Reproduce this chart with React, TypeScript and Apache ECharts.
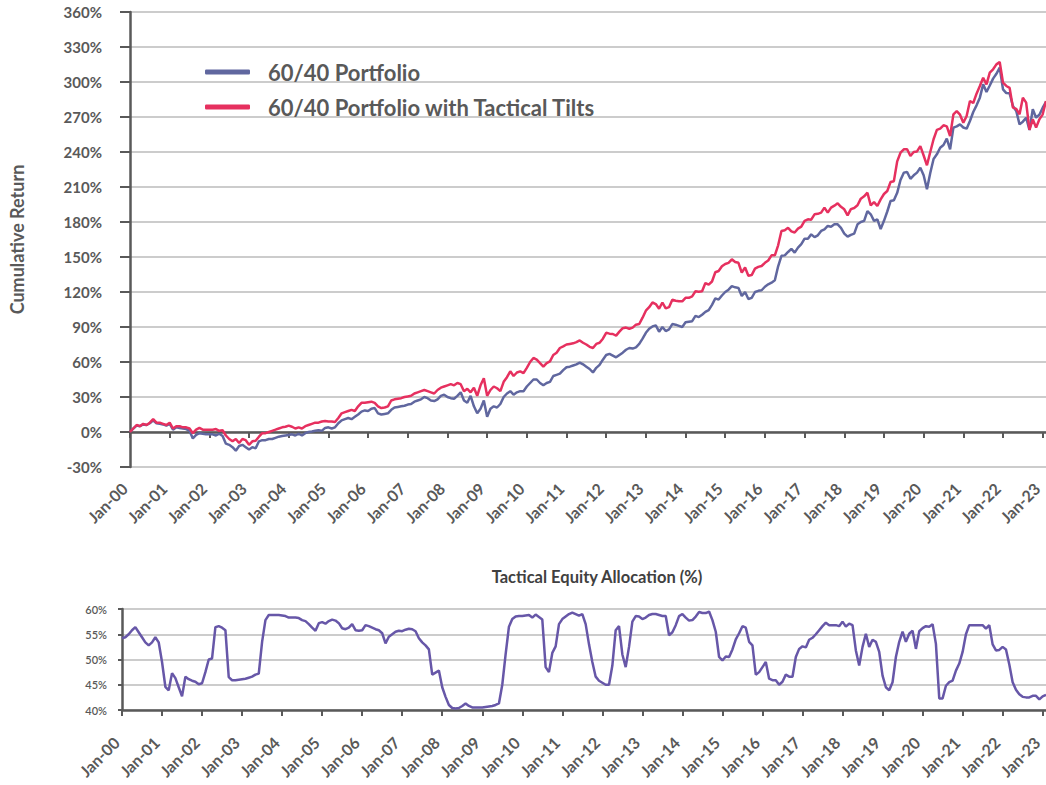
import React, { useEffect, useRef } from "react";
import * as echarts from "echarts";

// Monthly observations Jan-2000 .. Feb-2023
const MONTH_NAMES = ["Jan", "Feb", "Mar", "Apr", "May", "Jun", "Jul", "Aug", "Sep", "Oct", "Nov", "Dec"];
const FIRST_YEAR = 2000;
const N_MONTHS = 278;

// Cumulative return (%) – 60/40 Portfolio
const portfolio6040: number[] = [
  0, 3, 5.5, 5, 6.5, 6, 7.5, 10, 7.5, 7, 6.5, 5.5,
  7, 2, 4, 3.5, 3, 2.5, 1, -5.5, -2.5, -1, -1.5, -2,
  -2, -2, -3, -1.5, -3.5, -10, -11, -13, -16, -12, -11, -13,
  -15, -13, -14, -8, -7, -7, -6, -6, -5, -4, -3.5, -3,
  -2.5, -2, -3, -1.5, -3, -1, 0, 0.5, 1, 1.5, 1, 3.5,
  4, 3, 4, 7.5, 10, 11, 12, 11, 13, 15, 17.5, 18.5,
  18, 20, 20.5, 16, 15, 15.5, 16, 19, 21, 21.5, 22, 22.5,
  23.5, 24, 26, 27, 28, 30, 29, 27, 26.5, 28, 31, 32,
  30, 29, 28.5, 31, 34, 27, 25, 31, 22, 16, 20, 27,
  13, 20, 22, 21, 24, 30, 33, 35, 32, 34, 35, 35,
  39, 42, 45, 45, 42, 40, 42, 43, 48, 49, 50, 53,
  55.5, 56, 57, 58, 59.5, 58, 56, 54, 51, 55, 57.5, 62,
  66, 67, 65.5, 64, 66, 68, 70.5, 72, 71.5, 72.5, 75.5, 80,
  85, 88.5, 90.5, 91.4, 86, 90, 86.5, 88, 92.5, 92, 91, 90,
  94, 94.5, 95, 99.5, 98.5, 100.5, 103, 104.5, 109, 114.5, 113.5, 117,
  120, 122, 125, 124, 123.5, 116.5, 120, 114, 115, 120, 121, 121.5,
  124.5, 126.6, 128, 130, 142, 151, 151.4, 154.3, 157, 153.7, 158, 161,
  165.7, 165.7, 169.4, 167, 168.6, 172.3, 173.7, 176.6, 176, 178, 178, 175,
  170, 167.4, 169, 170, 178, 180, 181, 189.4, 186.6, 181, 182.3, 174,
  181, 189, 198, 198.6, 205, 216, 222.3, 222.9, 217, 220, 222.3, 226.6,
  220, 208, 222, 234, 238, 243.7, 246, 251.4, 242.3, 260.9, 262, 263.7,
  261, 260, 266.6, 274.3, 280, 286.6, 298, 291.4, 297, 302.9, 307, 312.3,
  293.7, 290.5, 290.3, 279.4, 275.1, 263.7, 266, 269.4, 258.9, 276.6, 269.4, 272,
  278, 282.9,
];

// Cumulative return (%) – 60/40 Portfolio with Tactical Tilts
const portfolioTilts: number[] = [
  0, 3, 6, 5, 7, 6, 8, 11, 8, 8, 7, 6,
  8, 3, 5, 5, 4, 4, 3, -1, 2, 3.5, 2, 2,
  2, 2, 2.5, 1, 1.5, -3, -6, -8, -6, -9.5, -6, -7,
  -11, -8, -7.5, -4, -1, -1, 0, 1, 2, 3, 4, 4.5,
  5.5, 4.5, 3, 4, 3, 5, 6, 7, 8, 8, 9, 9.5,
  9, 9, 8.5, 12, 16, 17, 18, 19, 18, 22, 25, 25,
  25.5, 26, 25, 22, 20.5, 21, 22, 27, 28, 28.5, 29, 30,
  30.5, 31, 33, 34, 35, 36, 35, 34, 33, 36, 38, 39,
  40, 41, 40, 42, 41, 35, 37, 34, 38, 31, 40, 46,
  31, 36, 39, 37.5, 35, 43, 47, 52, 48, 51, 52, 50.5,
  55, 60, 63.5, 62, 59, 56, 59, 60.5, 66, 68, 72, 73.4,
  75, 75.5, 76, 77, 78.5, 76.5, 75, 73, 72, 75.5, 76.5, 80,
  85, 84.3, 84, 82.6, 86, 89, 89.5, 88.5, 89.5, 92, 92.6, 98,
  104, 107, 111, 109.7, 105.7, 111, 106, 107, 113.4, 112.5, 112, 112,
  115, 115, 116.3, 120.6, 120.3, 120.6, 127.7, 126.3, 129, 136.9, 138, 142,
  144, 145, 148, 145.7, 145, 136.6, 141, 134, 134.5, 140, 141.5, 142.3,
  145, 147, 151.4, 151.4, 160, 172.3, 173, 175, 172, 171, 174.3, 176,
  181, 182.3, 182, 186.6, 187, 188, 192.3, 188, 192.3, 194, 196, 193,
  190.9, 185.7, 191, 192, 194.3, 200, 202, 205.1, 194.3, 197, 193.7, 199.4,
  204, 206.6, 214.3, 215, 232, 239.4, 242.3, 242.3, 236.6, 240, 240.5, 245,
  237, 228.6, 240, 250.9, 258.9, 260, 262.9, 262, 253.7, 272.3, 275.1, 272,
  265, 270.9, 283.7, 282, 290, 296.6, 303.7, 298, 308, 310.9, 315.1, 317.1,
  299.4, 296.6, 295, 278, 277, 272.3, 286.6, 282.3, 258.9, 268, 260.9, 268,
  272.3, 283.7,
];

// Tactical equity allocation (%)
const equityAllocation: number[] = [
  54.2, 54.4, 55, 55.8, 56.4, 55.4, 54.4, 53.4, 52.8, 53.4, 54.4, 53.4,
  49.5, 44.6, 43.9, 47.3, 46.3, 44.5, 42.7, 46.6, 46.1, 45.8, 45.6, 45.1,
  45.3, 47.5, 50, 50.2, 56.4, 56.6, 56.3, 55.8, 46.5, 45.9, 45.9, 46,
  46.1, 46.2, 46.4, 46.6, 47, 47.2, 53.5, 57.8, 58.8, 58.8, 58.8, 58.8,
  58.7, 58.6, 58.3, 58.3, 58.3, 58.2, 57.8, 57.6, 57, 56.3, 55.7, 57.2,
  57.4, 57.1, 57.6, 57.9, 57.7, 57.2, 56.2, 56, 56.3, 57, 55.8, 55.7,
  55.8, 56.8, 56.6, 56.3, 56, 55.8, 55.2, 53.2, 54.5, 55, 55.5, 55.7,
  55.6, 55.9, 56.1, 56, 55.6, 54.2, 53.4, 52.8, 52, 47, 47.4, 47.8,
  44.5, 42.6, 41, 40.4, 40.3, 40.4, 40.8, 41.3, 40.8, 40.5, 40.5, 40.5,
  40.5, 40.6, 40.7, 40.8, 41, 41.3, 45, 51, 56.5, 58, 58.5, 58.6,
  58.6, 58.7, 58.8, 58.3, 58.9, 58.4, 57.9, 48.5, 47.5, 51.3, 52.6, 57,
  58, 58.5, 59, 59.3, 59, 58.7, 59, 57, 53, 49.5, 46.6, 45.8,
  45.4, 45, 45, 48.8, 55.8, 56.6, 51, 48.5, 52.5, 57.5, 58.6, 58.5,
  58, 58.3, 58.8, 59, 59, 58.8, 58.6, 58.6, 54.8, 55.4, 56.8, 58.6,
  59, 58.3, 57.7, 57.8, 58.5, 59.4, 59.2, 59.2, 59.5, 57.8, 55.5, 50.5,
  49.8, 50.6, 50.5, 52, 54, 55.2, 56.6, 56.3, 53.5, 52.8, 47, 47.5,
  48.5, 49.5, 46.2, 45.9, 45.9, 45, 45.6, 47, 46.6, 46.6, 50.5, 52.1,
  52.6, 52.4, 53.9, 54.3, 55, 55.8, 56.6, 57.3, 56.8, 56.8, 56.8, 56.6,
  57.5, 56.5, 57.1, 56.8, 51.8, 48.8, 52.5, 55.1, 52.5, 53.9, 53.5, 51.5,
  46.8, 44.5, 43.9, 45.5, 50.5, 53.5, 55.5, 53.5, 55.1, 55.7, 52.1, 55.6,
  56.2, 56.6, 56.5, 57, 53.1, 42.3, 42.3, 44.8, 45.5, 45.8, 47.8, 49.2,
  51.5, 55, 56.8, 56.8, 56.8, 56.8, 56.8, 56.1, 56.8, 53, 51.8, 51.9,
  52.5, 52, 49, 45.5, 44, 43.1, 42.6, 42.5, 42.5, 42.8, 42.8, 42.1,
  42.7, 43,
];

const months: string[] = [];
for (let i = 0; i < N_MONTHS; i++) {
  const y = FIRST_YEAR + Math.floor(i / 12);
  months.push(MONTH_NAMES[i % 12] + "-" + String(y % 100).padStart(2, "0"));
}

const SERIES_NAMES = ["60/40 Portfolio", "60/40 Portfolio with Tactical Tilts"];
const BOTTOM_TITLE = "Tactical Equity Allocation (%)";
const Y_NAME = "Cumulative Return";

const AXIS_COLOR = "#595959";
const GRID_COLOR = "#cccccc";
const FONT = "Lato, 'Open Sans', sans-serif";

export default function App() {
  const ref = useRef<HTMLDivElement>(null);
  useEffect(() => {
    if (!ref.current) return;
    const chart = echarts.init(ref.current, undefined, { renderer: "svg" });
    const xCommon = {
      type: "category" as const,
      data: months,
      boundaryGap: false,
      axisLine: { show: true, lineStyle: { color: AXIS_COLOR, width: 2.5 } },
      axisTick: { show: true, interval: 11, length: 6, lineStyle: { color: AXIS_COLOR, width: 2 } },
      splitLine: { show: false },
    };
    const xLabel = (margin: number) => ({
      interval: 11,
      rotate: 45,
      margin,
      padding: [0, 8, 0, 0],
      fontFamily: FONT,
      fontSize: 16,
      fontWeight: "bold",
      color: AXIS_COLOR,
    });
    chart.setOption({
      animation: false,
      textStyle: { fontFamily: FONT },
      grid: [
        { left: 130, top: 12, width: 916, height: 455 },
        { left: 122, top: 609, width: 924, height: 101 },
      ],
      legend: {
        data: SERIES_NAMES,
        orient: "vertical",
        left: 200,
        top: 56,
        itemWidth: 45,
        itemHeight: 5,
        itemGap: 13,
        icon: "roundRect",
        textStyle: { fontFamily: FONT, fontSize: 22, fontWeight: "bold", color: AXIS_COLOR, padding: [0, 0, 0, 13] },
      },
      graphic: [
        {
          type: "text",
          x: 597,
          y: 577,
          style: {
            text: BOTTOM_TITLE,
            fontFamily: FONT,
            fontSize: 16.5,
            fontWeight: "bold",
            fill: "#404040",
            textAlign: "center",
            textVerticalAlign: "middle",
          },
        },
      ],
      xAxis: [
        { ...xCommon, gridIndex: 0, axisLabel: xLabel(13) },
        { ...xCommon, gridIndex: 1, axisLabel: xLabel(24) },
      ],
      yAxis: [
        {
          type: "value",
          gridIndex: 0,
          min: -30,
          max: 360,
          interval: 30,
          name: Y_NAME,
          nameLocation: "middle",
          nameGap: 104,
          nameTextStyle: { fontFamily: FONT, fontSize: 18, fontWeight: "bold", color: AXIS_COLOR },
          axisLine: { show: true, lineStyle: { color: AXIS_COLOR, width: 2.5 } },
          axisTick: { show: true, length: 10, lineStyle: { color: AXIS_COLOR, width: 2 } },
          axisLabel: {
            formatter: "{value}%",
            margin: 28,
            fontFamily: FONT,
            fontSize: 15,
            fontWeight: "bold",
            color: AXIS_COLOR,
          },
          splitLine: { show: true, lineStyle: { color: GRID_COLOR, width: 2 } },
        },
        {
          type: "value",
          gridIndex: 1,
          min: 40,
          max: 60,
          interval: 5,
          axisLine: { show: true, lineStyle: { color: AXIS_COLOR, width: 2.5 } },
          axisTick: { show: true, length: 4, lineStyle: { color: AXIS_COLOR, width: 2 } },
          axisLabel: {
            formatter: "{value}%",
            margin: 15,
            fontFamily: FONT,
            fontSize: 11,
            fontWeight: 600,
            color: AXIS_COLOR,
          },
          splitLine: { show: true, lineStyle: { color: GRID_COLOR, width: 2 } },
        },
      ],
      series: [
        {
          name: SERIES_NAMES[0],
          type: "line",
          xAxisIndex: 0,
          yAxisIndex: 0,
          data: portfolio6040,
          showSymbol: false,
          color: "#60679f",
          lineStyle: { width: 2.5, color: "#60679f" },
        },
        {
          name: SERIES_NAMES[1],
          type: "line",
          xAxisIndex: 0,
          yAxisIndex: 0,
          data: portfolioTilts,
          showSymbol: false,
          color: "#e6305f",
          lineStyle: { width: 2.5, color: "#e6305f" },
        },
        {
          name: "Tactical Equity Allocation",
          type: "line",
          xAxisIndex: 1,
          yAxisIndex: 1,
          data: equityAllocation,
          showSymbol: false,
          color: "#6757a8",
          lineStyle: { width: 2.5, color: "#6757a8" },
        },
      ],
    });
    return () => chart.dispose();
  }, []);
  return <div ref={ref} style={{ position: "absolute", left: 0, top: 0, width: 1046, height: 785 }} />;
}
